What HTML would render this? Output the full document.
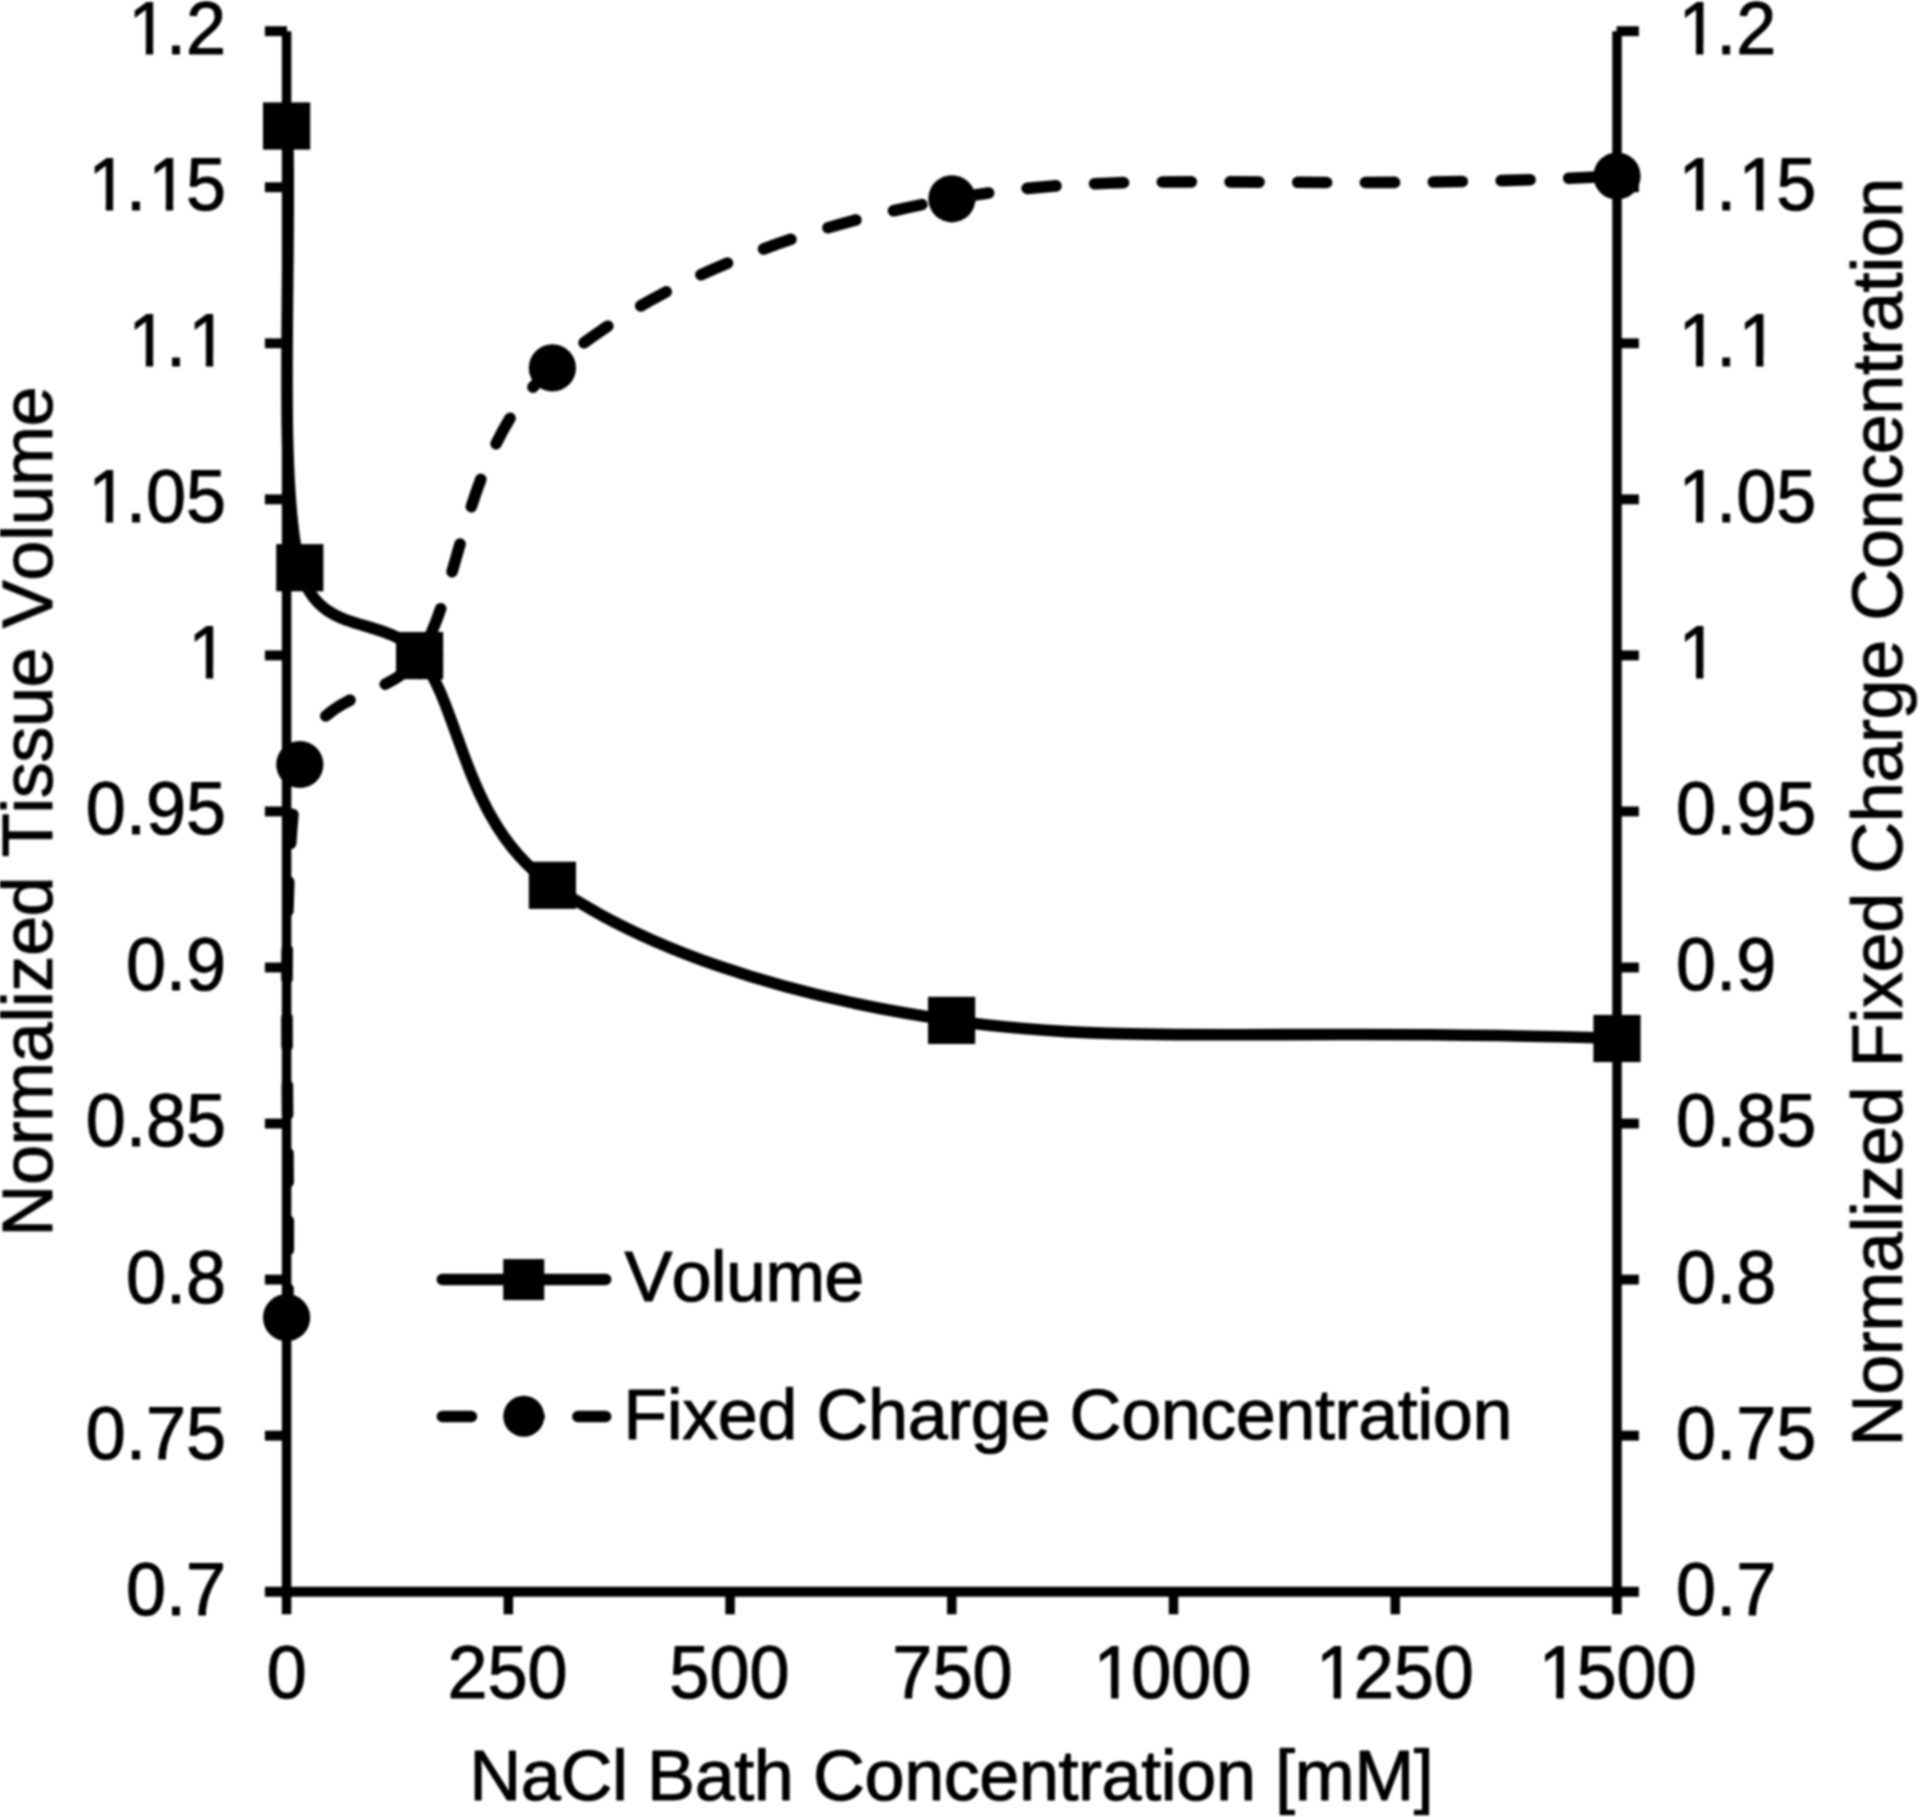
<!DOCTYPE html>
<html lang="en"><head><meta charset="utf-8"><title>Normalized Tissue Volume and Fixed Charge Concentration vs NaCl Bath Concentration</title>
<style>html,body{margin:0;padding:0;background:#fff}body{width:1920px;height:1817px;overflow:hidden}svg{display:block}text{font-family:"Liberation Sans",sans-serif;font-size:72px;fill:#000;stroke:#000;stroke-width:1px;stroke-linejoin:round;font-kerning:none;text-rendering:geometricPrecision}</style>
</head><body>
<svg width="1920" height="1817" viewBox="0 0 1920 1817">
<rect width="1920" height="1817" fill="#fff"/>
<defs><filter id="soft" filterUnits="userSpaceOnUse" x="0" y="0" width="1920" height="1817" color-interpolation-filters="sRGB"><feGaussianBlur stdDeviation="1"/></filter></defs>
<g filter="url(#soft)">
<g stroke="#000" fill="none" stroke-linecap="butt">
<g stroke-width="9.50">
<path d="M286.60 31.20 V1614.30"/>
<path d="M1617.00 31.20 V1614.30"/>
<path d="M508.33 1591.70 V1614.30"/>
<path d="M730.07 1591.70 V1614.30"/>
<path d="M951.80 1591.70 V1614.30"/>
<path d="M1173.53 1591.70 V1614.30"/>
<path d="M1395.27 1591.70 V1614.30"/>
</g>
<g stroke-width="9.90">
<path d="M264.90 1591.80 H1638.90"/>
<path d="M264.90 31.20 H287.00"/>
<path d="M1616.60 31.20 H1638.90"/>
<path d="M264.90 187.25 H287.00"/>
<path d="M1616.60 187.25 H1638.90"/>
<path d="M264.90 343.30 H287.00"/>
<path d="M1616.60 343.30 H1638.90"/>
<path d="M264.90 499.35 H287.00"/>
<path d="M1616.60 499.35 H1638.90"/>
<path d="M264.90 655.40 H287.00"/>
<path d="M1616.60 655.40 H1638.90"/>
<path d="M264.90 811.45 H287.00"/>
<path d="M1616.60 811.45 H1638.90"/>
<path d="M264.90 967.50 H287.00"/>
<path d="M1616.60 967.50 H1638.90"/>
<path d="M264.90 1123.55 H287.00"/>
<path d="M1616.60 1123.55 H1638.90"/>
<path d="M264.90 1279.60 H287.00"/>
<path d="M1616.60 1279.60 H1638.90"/>
<path d="M264.90 1435.65 H287.00"/>
<path d="M1616.60 1435.65 H1638.90"/>
</g>
</g>
<g>
<text transform="translate(0 54.10) scale(1 1.0400)" x="128.23 165.95 185.96" y="0">1.2</text>
<text transform="translate(0 54.10) scale(1 1.0400)" x="1678.42 1716.14 1736.15" y="0">1.2</text>
<text transform="translate(0 210.15) scale(1 1.0400)" x="88.19 125.91 148.23 185.96" y="0">1.15</text>
<text transform="translate(0 210.15) scale(1 1.0400)" x="1678.42 1716.14 1738.47 1776.19" y="0">1.15</text>
<text transform="translate(0 366.20) scale(1 1.0400)" x="128.23 165.95 188.28" y="0">1.1</text>
<text transform="translate(0 366.20) scale(1 1.0400)" x="1678.42 1716.14 1738.47" y="0">1.1</text>
<text transform="translate(0 522.25) scale(1 1.0400)" x="88.19 125.91 145.91 185.96" y="0">1.05</text>
<text transform="translate(0 522.25) scale(1 1.0400)" x="1678.42 1716.14 1736.15 1776.19" y="0">1.05</text>
<text transform="translate(0 678.30) scale(1 1.0400)" x="188.28" y="0">1</text>
<text transform="translate(0 678.30) scale(1 1.0400)" x="1678.42" y="0">1</text>
<text transform="translate(0 834.35) scale(1 1.0400)" x="85.87 125.91 145.91 185.96" y="0">0.95</text>
<text transform="translate(0 834.35) scale(1 1.0400)" x="1676.10 1716.14 1736.15 1776.19" y="0">0.95</text>
<text transform="translate(0 990.40) scale(1 1.0400)" x="125.91 165.95 185.96" y="0">0.9</text>
<text transform="translate(0 990.40) scale(1 1.0400)" x="1676.10 1716.14 1736.15" y="0">0.9</text>
<text transform="translate(0 1146.45) scale(1 1.0400)" x="85.87 125.91 145.91 185.96" y="0">0.85</text>
<text transform="translate(0 1146.45) scale(1 1.0400)" x="1676.10 1716.14 1736.15 1776.19" y="0">0.85</text>
<text transform="translate(0 1302.50) scale(1 1.0400)" x="125.91 165.95 185.96" y="0">0.8</text>
<text transform="translate(0 1302.50) scale(1 1.0400)" x="1676.10 1716.14 1736.15" y="0">0.8</text>
<text transform="translate(0 1458.55) scale(1 1.0400)" x="85.87 125.91 145.91 185.96" y="0">0.75</text>
<text transform="translate(0 1458.55) scale(1 1.0400)" x="1676.10 1716.14 1736.15 1776.19" y="0">0.75</text>
<text transform="translate(0 1614.60) scale(1 1.0400)" x="125.91 165.95 185.96" y="0">0.7</text>
<text transform="translate(0 1614.60) scale(1 1.0400)" x="1676.10 1716.14 1736.15" y="0">0.7</text>
<text transform="translate(0 1698.30) scale(1 1.0400)" x="266.63" y="0">0</text>
<text transform="translate(0 1698.30) scale(1 1.0400)" x="447.43 487.47 527.52" y="0">250</text>
<text transform="translate(0 1698.30) scale(1 1.0400)" x="669.35 709.39 749.44" y="0">500</text>
<text transform="translate(0 1698.30) scale(1 1.0400)" x="892.35 932.39 972.43" y="0">750</text>
<text transform="translate(0 1698.30) scale(1 1.0400)" x="1093.52 1131.24 1171.29 1211.33" y="0">1000</text>
<text transform="translate(0 1698.30) scale(1 1.0400)" x="1315.97 1353.69 1393.74 1433.78" y="0">1250</text>
<text transform="translate(0 1698.30) scale(1 1.0400)" x="1538.67 1576.39 1616.44 1656.48" y="0">1500</text>
<text transform="translate(0 1799.80) scale(1 0.9900)" x="469.29 520.85 560.45 612.00 627.55 647.11 694.70 734.30 753.86 793.46 813.02 864.57 904.17 943.77 979.33 1018.93 1058.53 1078.09 1101.62 1141.22 1160.79 1176.34 1215.94 1255.54 1275.10 1294.66 1354.20 1413.73" y="0">NaCl Bath Concentration [mM]</text>
<text transform="translate(52.30 1231.20) rotate(-90) scale(1 0.9900)" x="-5.41 46.15 85.76 109.30 168.85 208.45 224.02 239.58 275.14 314.75 354.36 373.93 417.47 433.03 468.60 504.16 543.77 583.38 602.95 650.54 690.15 705.71 745.31 804.86" y="0">Normalized Tissue Volume</text>
<text transform="translate(1902.10 1441.00) rotate(-90) scale(1 0.9900)" x="-5.41 46.15 85.75 109.29 168.83 208.43 223.99 239.54 275.10 314.71 354.31 373.87 417.42 432.97 468.53 508.14 547.74 567.30 618.86 658.46 698.07 721.60 761.21 800.81 820.37 871.93 911.53 951.14 986.70 1026.30 1065.90 1085.47 1109.01 1148.61 1168.17 1183.73 1223.33" y="0">Normalized Fixed Charge Concentration</text>
<text transform="translate(0 1301.30) scale(1 0.9900)" x="624.38 671.59 710.81 725.98 765.20 824.36" y="0">Volume</text>
<text transform="translate(0 1439.40) scale(1 0.9900)" x="623.19 666.73 682.27 717.83 757.42 797.01 816.57 868.12 907.71 947.31 970.83 1010.43 1050.02 1069.58 1121.13 1160.72 1200.32 1235.87 1275.46 1315.06 1334.61 1358.14 1397.74 1417.29 1432.84 1472.43" y="0">Fixed Charge Concentration</text>
</g>
<g fill="#fff">
<rect x="131.00" y="46.31" width="14.83" height="9.39"/>
<rect x="153.20" y="46.31" width="14.56" height="9.39"/>
<rect x="1681.19" y="46.31" width="14.83" height="9.39"/>
<rect x="1703.39" y="46.31" width="14.56" height="9.39"/>
<rect x="90.96" y="202.36" width="14.83" height="9.39"/>
<rect x="113.16" y="202.36" width="14.56" height="9.39"/>
<rect x="151.01" y="202.36" width="14.83" height="9.39"/>
<rect x="173.20" y="202.36" width="14.56" height="9.39"/>
<rect x="1681.19" y="202.36" width="14.83" height="9.39"/>
<rect x="1703.39" y="202.36" width="14.56" height="9.39"/>
<rect x="1741.24" y="202.36" width="14.83" height="9.39"/>
<rect x="1763.44" y="202.36" width="14.56" height="9.39"/>
<rect x="131.00" y="358.41" width="14.83" height="9.39"/>
<rect x="153.20" y="358.41" width="14.56" height="9.39"/>
<rect x="191.05" y="358.41" width="14.83" height="9.39"/>
<rect x="213.25" y="358.41" width="14.56" height="9.39"/>
<rect x="1681.19" y="358.41" width="14.83" height="9.39"/>
<rect x="1703.39" y="358.41" width="14.56" height="9.39"/>
<rect x="1741.24" y="358.41" width="14.83" height="9.39"/>
<rect x="1763.44" y="358.41" width="14.56" height="9.39"/>
<rect x="90.96" y="514.46" width="14.83" height="9.39"/>
<rect x="113.16" y="514.46" width="14.56" height="9.39"/>
<rect x="1681.19" y="514.46" width="14.83" height="9.39"/>
<rect x="1703.39" y="514.46" width="14.56" height="9.39"/>
<rect x="191.05" y="670.51" width="14.83" height="9.39"/>
<rect x="213.25" y="670.51" width="14.56" height="9.39"/>
<rect x="1681.19" y="670.51" width="14.83" height="9.39"/>
<rect x="1703.39" y="670.51" width="14.56" height="9.39"/>
<rect x="1096.29" y="1690.51" width="14.83" height="9.39"/>
<rect x="1118.49" y="1690.51" width="14.56" height="9.39"/>
<rect x="1318.74" y="1690.51" width="14.83" height="9.39"/>
<rect x="1340.94" y="1690.51" width="14.56" height="9.39"/>
<rect x="1541.44" y="1690.51" width="14.83" height="9.39"/>
<rect x="1563.64" y="1690.51" width="14.56" height="9.39"/>
</g>
<g fill="none" stroke="#000" stroke-width="11.60" stroke-linecap="round" stroke-linejoin="round">
<path d="M287.50 126.00 C291.60 273.23 277.78 479.43 299.80 567.70 C317.78 639.79 385.22 612.37 419.60 655.60 C461.70 708.53 463.73 824.50 552.40 885.30 C641.07 946.10 774.17 994.87 951.60 1020.40 C1129.03 1045.93 1284.37 1027.18 1617.00 1038.50"/>
<path stroke-dasharray="29 38.75" d="M287.50 1317.60 C291.60 1133.23 277.78 874.83 299.80 764.50 C315.64 685.12 389.31 703.16 419.60 655.60 C461.70 589.50 463.68 444.03 552.40 367.90 C641.12 291.77 774.47 230.78 951.90 198.80 C1129.18 166.84 1284.70 193.27 1617.00 176.00"/>
<path d="M442.4 1279.45 H605.6"/>
<path stroke-dasharray="29 38.75" d="M442.4 1416.5 H605.6"/>
</g>
<g fill="#000">
<rect x="263.00" y="102.40" width="47.20" height="47.20"/>
<rect x="276.20" y="544.10" width="47.20" height="47.20"/>
<rect x="396.00" y="632.00" width="47.20" height="47.20"/>
<rect x="528.80" y="861.70" width="47.20" height="47.20"/>
<rect x="928.00" y="996.80" width="47.20" height="47.20"/>
<rect x="1593.40" y="1014.90" width="47.20" height="47.20"/>
<circle cx="286.60" cy="1317.60" r="23.60"/>
<circle cx="299.80" cy="764.50" r="23.60"/>
<circle cx="419.60" cy="655.60" r="23.60"/>
<circle cx="552.40" cy="367.90" r="23.60"/>
<circle cx="951.90" cy="198.80" r="23.60"/>
<circle cx="1617.00" cy="176.00" r="23.60"/>
<rect x="503.25" y="1259.10" width="41.00" height="41.00"/>
<circle cx="523.75" cy="1416.3" r="20.50"/>
</g>
</g>
</svg>
</body></html>
